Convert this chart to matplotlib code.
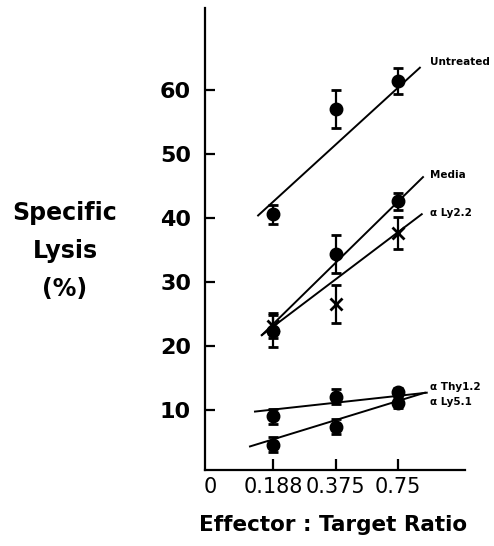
import matplotlib.pyplot as plt
import numpy as np

plt.rcParams['font.family'] = ['DejaVu Sans']

# effector : target ratios (categorical positions)
ratios = ['0.188', '0.375', '0.75']
xpos = [1, 2, 3]

# series values (% specific lysis) and error half-widths
untreated = [40.6, 57.0, 61.4]
untreated_err = [1.5, 3.0, 2.0]
media = [22.4, 34.4, 42.6]
media_err = [2.5, 3.0, 1.3]
ly22 = [23.2, 26.6, 37.6]
ly22_err = [2.0, 3.0, 2.5]
thy12 = [9.0, 12.1, 12.8]
thy12_err = [1.2, 1.2, 0.6]
ly51 = [4.6, 7.4, 11.1]
ly51_err = [1.2, 1.2, 0.8]

# hand-drawn fit lines: (x start, x end), (y start, y end)
fit_untreated = ([0.76, 3.35], [40.4, 63.5])
fit_media = ([0.82, 3.40], [21.7, 46.4])
fit_ly22 = ([0.82, 3.38], [21.7, 40.6])
fit_thy12 = ([0.71, 3.46], [9.75, 12.7])
fit_ly51 = ([0.63, 3.43], [4.3, 12.7])

fig = plt.figure(figsize=(4.94, 5.46), dpi=100)
ax = fig.add_axes([0.415, 0.139, 0.526, 0.846])

def draw(vals, errs, fit, marker, ms):
    ax.errorbar(xpos, vals, yerr=errs, fmt=marker, color='black', ms=ms,
                mew=2, elinewidth=1.6, capsize=3.5, capthick=1.6)
    ax.plot(fit[0], fit[1], color='black', lw=1.4)

draw(untreated, untreated_err, fit_untreated, 'o', 8)
draw(media, media_err, fit_media, 'o', 8)
draw(ly22, ly22_err, fit_ly22, 'x', 8)
draw(thy12, thy12_err, fit_thy12, 'o', 8)
draw(ly51, ly51_err, fit_ly51, 'o', 8)

lab_kw = dict(fontsize=7.5, fontweight='bold', va='center')
ax.text(3.51, 64.4, 'Untreated', **lab_kw)
ax.text(3.51, 46.7, 'Media', **lab_kw)
ax.text(3.51, 40.8, 'α Ly2.2', **lab_kw)
ax.text(3.51, 13.6, 'α Thy1.2', **lab_kw)
ax.text(3.51, 11.25, 'α Ly5.1', **lab_kw)

ax.set_xlim(-0.09, 4.07)
ax.set_ylim(0.6, 72.8)
ax.spines['top'].set_visible(False)
ax.spines['right'].set_visible(False)
ax.spines['left'].set_linewidth(1.6)
ax.spines['bottom'].set_linewidth(1.6)

ax.set_yticks([10, 20, 30, 40, 50, 60])
ax.set_xticks([0] + xpos)
ax.set_xticklabels(['0'] + ratios)
ax.tick_params(axis='y', direction='in', length=7, width=1.6, pad=10, labelsize=16)
for lab in ax.get_yticklabels():
    lab.set_fontweight('bold')
ax.tick_params(axis='x', direction='in', length=8, width=1.6, pad=5, labelsize=15)
ax.xaxis.get_major_ticks()[0].tick1line.set_visible(False)

fig.text(65 / 494, 1 - 251 / 546, 'Specific\nLysis\n(%)', ha='center', va='center',
         fontsize=17, fontweight='bold', linespacing=1.75)
fig.text(333 / 494, 1 - 525 / 546, 'Effector : Target Ratio', ha='center', va='center',
         fontsize=15.5, fontweight='bold')

fig.savefig('out.png', dpi=100)
